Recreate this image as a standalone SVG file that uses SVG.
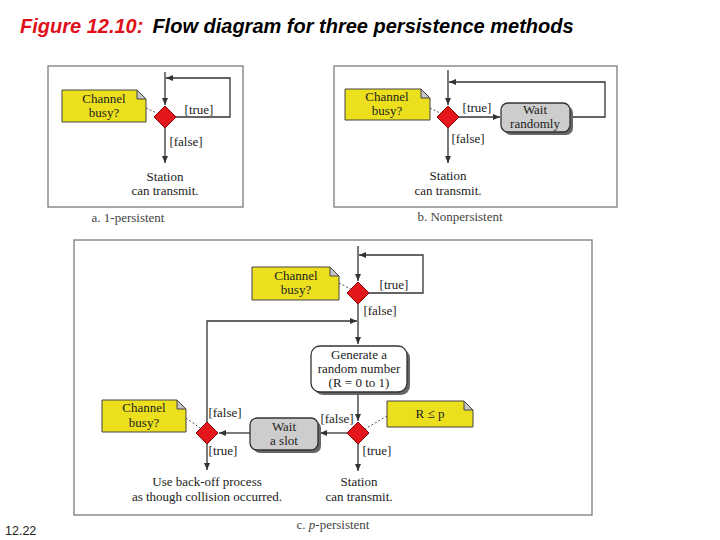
<svg xmlns="http://www.w3.org/2000/svg" width="720" height="540" viewBox="0 0 720 540">
<style>
.frame{fill:#fff;stroke:#7a7a7a;stroke-width:1.3}
.ln{fill:none;stroke:#333;stroke-width:1.3}
.arr{marker-end:url(#ah)}
.dot{fill:none;stroke:#555;stroke-width:1;stroke-dasharray:2 2}
.note{fill:#ECE01E;stroke:#444;stroke-width:1}
.fold{fill:#c4c4c4;stroke:#444;stroke-width:1}
.dia{fill:#E3161C;stroke:#8a0000;stroke-width:1}
.box{fill:#CDCDCD;stroke:#333;stroke-width:1.3}
.wbox{fill:#fff;stroke:#333;stroke-width:1.3}
.shadow{fill:#666}
.t{font-family:"Liberation Serif",serif;font-size:13px;fill:#222;text-anchor:middle}
.cap{font-family:"Liberation Serif",serif;font-size:13px;fill:#444;text-anchor:middle}
.title{font-family:"Liberation Sans",Arial,sans-serif;font-size:20px;font-style:italic;font-weight:bold}
</style>
<defs>
<marker id="ah" markerWidth="7" markerHeight="6" refX="7" refY="3" orient="auto" markerUnits="userSpaceOnUse">
<path d="M0,0 L7,3 L0,6 z" fill="#333"/>
</marker>
</defs>
<rect width="720" height="540" fill="#fff"/>
<text class="title" x="20" y="33"><tspan fill="#E0101A">Figure 12.10:</tspan><tspan fill="#000" dx="9">Flow diagram for three persistence methods</tspan></text>
<text x="5" y="535" font-family="Liberation Sans,Arial,sans-serif" font-size="12.5" fill="#222">12.22</text>

<g id="frames">
<rect class="frame" x="48" y="66" width="195" height="141"/>
<rect class="frame" x="334" y="66" width="283" height="141"/>
<rect class="frame" x="74" y="240" width="518" height="275"/>
</g>
<g id="captions">
<text class="cap" x="128" y="222">a. 1-persistent</text>
<text class="cap" x="460" y="221">b. Nonpersistent</text>
<text class="cap" x="333" y="529">c. <tspan font-style="italic">p</tspan>-persistent</text>
</g>

<g id="connectors">
<path class="ln arr" d="M165,72 V105"/>
<path class="ln arr" d="M176,117 H230 V78 H166"/>
<path class="ln arr" d="M165,128 V163"/>
<line class="dot" x1="146" y1="108" x2="165" y2="117"/>
<path class="ln arr" d="M448,70 V105"/>
<path class="ln arr" d="M459,117 H500"/>
<path class="ln arr" d="M570,117 H605 V82 H449"/>
<path class="ln arr" d="M448,128 V163"/>
<line class="dot" x1="430" y1="108" x2="448" y2="117"/>
<path class="ln arr" d="M358,246 V281"/>
<path class="ln arr" d="M369,293 H423 V255 H359"/>
<path class="ln arr" d="M358,304 V344"/>
<path class="ln arr" d="M207,422 V321 H357"/>
<path class="ln arr" d="M358,392 V421"/>
<path class="ln arr" d="M347,433 H320"/>
<path class="ln arr" d="M250,433 H219"/>
<path class="ln arr" d="M207,444 V470"/>
<path class="ln arr" d="M358,444 V471"/>
<line class="dot" x1="339" y1="283" x2="358" y2="293"/>
<line class="dot" x1="387" y1="416" x2="358" y2="433"/>
<line class="dot" x1="186" y1="418" x2="207" y2="433"/>
</g>

<g id="a-note">
<path class="note" d="M62,90 H137 L146,99 V122 H62 Z"/>
<path class="fold" d="M137,90 V99 H146 Z"/>
<text class="t" x="104" y="103">Channel</text>
<text class="t" x="104" y="117">busy?</text>
</g>
<g id="a-decision">
<polygon class="dia" points="165,106 176,117 165,128 154,117"/>
</g>
<g id="a-labels">
<text class="t" x="199" y="114">[true]</text>
<text class="t" x="186" y="146">[false]</text>
</g>
<g id="a-end">
<text class="t" x="165" y="181">Station</text>
<text class="t" x="165" y="195">can transmit.</text>
</g>

<g id="b-note">
<path class="note" d="M345,89 H421 L430,98 V120 H345 Z"/>
<path class="fold" d="M421,89 V98 H430 Z"/>
<text class="t" x="387" y="101">Channel</text>
<text class="t" x="387" y="115">busy?</text>
</g>
<g id="b-decision">
<polygon class="dia" points="448,106 459,117 448,128 437,117"/>
</g>
<g id="b-wait">
<rect class="shadow" x="504" y="106" width="69" height="29" rx="7"/>
<rect class="box" x="501" y="103" width="69" height="29" rx="7"/>
<text class="t" x="535" y="114">Wait</text>
<text class="t" x="535" y="128">randomly</text>
</g>
<g id="b-labels">
<text class="t" x="477" y="112">[true]</text>
<text class="t" x="468" y="143">[false]</text>
</g>
<g id="b-end">
<text class="t" x="448" y="180">Station</text>
<text class="t" x="448" y="195">can transmit.</text>
</g>

<g id="c-note1">
<path class="note" d="M252,267 H330 L339,276 V300 H252 Z"/>
<path class="fold" d="M330,267 V276 H339 Z"/>
<text class="t" x="296" y="280">Channel</text>
<text class="t" x="296" y="294">busy?</text>
</g>
<g id="c-decision1">
<polygon class="dia" points="358,282 369,293 358,304 347,293"/>
</g>
<g id="c-labels1">
<text class="t" x="394" y="289">[true]</text>
<text class="t" x="380" y="315">[false]</text>
</g>
<g id="c-generate">
<rect class="shadow" x="314" y="349" width="96" height="46" rx="9"/>
<rect class="wbox" x="311" y="346" width="96" height="46" rx="9"/>
<text class="t" x="359" y="359">Generate a</text>
<text class="t" x="359" y="373">random number</text>
<text class="t" x="359" y="387">(R = 0 to 1)</text>
</g>
<g id="c-decision2">
<polygon class="dia" points="358,422 369,433 358,444 347,433"/>
</g>
<g id="c-note2">
<path class="note" d="M387,401 H464 L473,410 V427 H387 Z"/>
<path class="fold" d="M464,401 V410 H473 Z"/>
<text class="t" x="430" y="418">R ≤ p</text>
</g>
<g id="c-wait">
<rect class="shadow" x="253" y="421" width="68" height="32" rx="7"/>
<rect class="box" x="250" y="418" width="68" height="32" rx="7"/>
<text class="t" x="284" y="431">Wait</text>
<text class="t" x="284" y="445">a slot</text>
</g>
<g id="c-decision3">
<polygon class="dia" points="207,422 218,433 207,444 196,433"/>
</g>
<g id="c-note3">
<path class="note" d="M102,400 H177 L186,409 V432 H102 Z"/>
<path class="fold" d="M177,400 V409 H186 Z"/>
<text class="t" x="144" y="412">Channel</text>
<text class="t" x="144" y="427">busy?</text>
</g>
<g id="c-labels2">
<text class="t" x="337" y="423">[false]</text>
<text class="t" x="377" y="455">[true]</text>
<text class="t" x="225" y="417">[false]</text>
<text class="t" x="223" y="455">[true]</text>
</g>
<g id="c-end1">
<text class="t" x="207" y="486">Use back-off process</text>
<text class="t" x="207" y="501">as though collision occurred.</text>
</g>
<g id="c-end2">
<text class="t" x="359" y="486">Station</text>
<text class="t" x="359" y="501">can transmit.</text>
</g>
</svg>
